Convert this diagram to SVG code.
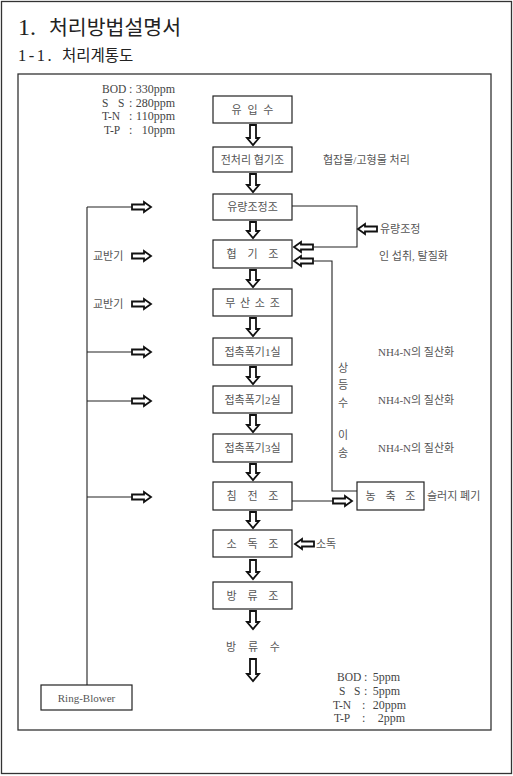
<svg xmlns="http://www.w3.org/2000/svg" width="513" height="776" viewBox="0 0 513 776">
<style>
.frame{fill:none;stroke:#333;stroke-width:1.3}
.box{fill:#fff;stroke:#222;stroke-width:1.2}
.ln{fill:none;stroke:#222;stroke-width:1.1}
.ar{fill:#fff;stroke:#111;stroke-width:1.8;stroke-linejoin:miter}
.t{font-family:"Liberation Serif","Noto Sans CJK KR",serif;font-size:11px;fill:#555;text-anchor:middle}
.tl{font-family:"Liberation Serif","Noto Sans CJK KR",serif;font-size:11px;fill:#555}
.v{font-family:"Liberation Serif","Noto Sans CJK KR",serif;font-size:12px;fill:#444}
.lb{font-size:11.5px}
.title{font-family:"Liberation Serif","Noto Sans CJK KR",serif;fill:#222}
</style>
<defs>
<path id="ra" d="M0,-2.5 H12 V-5 L19,0 L12,5 V2.5 H0 Z"/>
</defs>
<rect x="0" y="0" width="513" height="776" fill="#fff"/>
<rect class="frame" x="1.5" y="1.5" width="510" height="772"/>
<rect class="frame" x="18" y="74" width="473" height="656"/>
<text class="title" x="18" y="35" font-size="24">1.<tspan x="49" font-size="20.5">처리방법설명서</tspan></text>
<text class="title" x="18" y="61" font-size="16.5" letter-spacing="2.5">1-1.<tspan x="62" font-size="15.5" letter-spacing="0">처리계통도</tspan></text>

<g id="influent-quality" class="v">
<text class="lb" x="102" y="93">BOD</text><text x="129" y="93">:</text><text x="175" y="93" text-anchor="end">330ppm</text>
<text class="lb" x="102" y="107">S</text><text class="lb" x="118" y="107">S</text><text x="129" y="107">:</text><text x="175" y="107" text-anchor="end">280ppm</text>
<text class="lb" x="102" y="120">T-N</text><text x="129" y="120">:</text><text x="175" y="120" text-anchor="end">110ppm</text>
<text class="lb" x="104" y="134">T-P</text><text x="129" y="134">:</text><text x="175" y="134" text-anchor="end">10ppm</text>
</g>
<g id="effluent-quality" class="v">
<text class="lb" x="337" y="681">BOD</text><text x="364" y="681">:</text><text x="400" y="681" text-anchor="end">5ppm</text>
<text class="lb" x="339" y="695">S</text><text class="lb" x="354" y="695">S</text><text x="364" y="695">:</text><text x="400" y="695" text-anchor="end">5ppm</text>
<text class="lb" x="333" y="709">T-N</text><text x="362" y="709">:</text><text x="406" y="709" text-anchor="end">20ppm</text>
<text class="lb" x="334" y="722">T-P</text><text x="362" y="722">:</text><text x="405" y="722" text-anchor="end">2ppm</text>
</g>

<g id="connectors">
<path class="ln" d="M87,207 V685 M87,207 H132 M87,352 H132 M87,401 H132 M87,497 H132"/>
<path class="ln" d="M292,206 H357 V247 H314"/>
<path class="ln" d="M314,261 H332 V491 H357"/>
<path class="ln" d="M292,501 H333"/>
<use href="#ra" class="ar" transform="translate(132,207)"/>
<use href="#ra" class="ar" transform="translate(132,256)"/>
<use href="#ra" class="ar" transform="translate(132,304)"/>
<use href="#ra" class="ar" transform="translate(132,352)"/>
<use href="#ra" class="ar" transform="translate(132,401)"/>
<use href="#ra" class="ar" transform="translate(132,497)"/>
<use href="#ra" class="ar" transform="translate(333,501)"/>
<use href="#ra" class="ar" transform="translate(313,247) scale(-1,1)"/>
<use href="#ra" class="ar" transform="translate(313,261) scale(-1,1)"/>
<use href="#ra" class="ar" transform="translate(377,229) scale(-1,1)"/>
<use href="#ra" class="ar" transform="translate(314,544) scale(-1,1)"/>
<path class="ar" d="M250,125 V138 H247 L253,145 L259,138 H256 V125 Z"/>
<path class="ar" d="M250,174 V185 H247 L253,192 L259,185 H256 V174 Z"/>
<path class="ar" d="M250,222 V231 H247 L253,238 L259,231 H256 V222 Z"/>
<path class="ar" d="M250,270 V280 H247 L253,287 L259,280 H256 V270 Z"/>
<path class="ar" d="M250,318 V329 H247 L253,336 L259,329 H256 V318 Z"/>
<path class="ar" d="M250,367 V377 H247 L253,384 L259,377 H256 V367 Z"/>
<path class="ar" d="M250,415 V425 H247 L253,432 L259,425 H256 V415 Z"/>
<path class="ar" d="M250,464 V473 H247 L253,480 L259,473 H256 V464 Z"/>
<path class="ar" d="M250,512 V521 H247 L253,528 L259,521 H256 V512 Z"/>
<path class="ar" d="M250,560 V572 H247 L253,579 L259,572 H256 V560 Z"/>
<path class="ar" d="M250,611 V622 H247 L253,629 L259,622 H256 V611 Z"/>
<path class="ar" d="M250,659 V674 H247 L253,681 L259,674 H256 V659 Z"/>
</g>

<g id="n-influent"><rect class="box" x="213" y="96" width="79" height="27"/><text class="t" x="252.5" y="113.5" word-spacing="3">유 입 수</text></g>
<g id="n-pretreat"><rect class="box" x="213" y="147" width="79" height="25"/><text class="t" x="252.5" y="163.5">전처리 협기조</text></g>
<g id="n-equal"><rect class="box" x="213" y="194" width="79" height="26"/><text class="t" x="252.5" y="211">유량조정조</text></g>
<g id="n-anaerobic"><rect class="box" x="213" y="240" width="79" height="28"/><text class="t" x="252.5" y="258" word-spacing="8">협 기 조</text></g>
<g id="n-anoxic"><rect class="box" x="213" y="289" width="79" height="27"/><text class="t" x="252.5" y="306.5" word-spacing="2">무 산 소 조</text></g>
<g id="n-aer1"><rect class="box" x="213" y="338" width="79" height="27"/><text class="t" x="252.5" y="355.5" font-size="10.5">접촉폭기1실</text></g>
<g id="n-aer2"><rect class="box" x="213" y="386" width="79" height="27"/><text class="t" x="252.5" y="403.5" font-size="10.5">접촉폭기2실</text></g>
<g id="n-aer3"><rect class="box" x="213" y="434" width="79" height="28"/><text class="t" x="252.5" y="452" font-size="10.5">접촉폭기3실</text></g>
<g id="n-settle"><rect class="box" x="213" y="482" width="79" height="28"/><text class="t" x="252.5" y="500" word-spacing="8">침 전 조</text></g>
<g id="n-disinfect"><rect class="box" x="213" y="530" width="79" height="27"/><text class="t" x="252.5" y="547.5" word-spacing="8">소 독 조</text></g>
<g id="n-discharge"><rect class="box" x="213" y="582" width="79" height="27"/><text class="t" x="252.5" y="599.5" word-spacing="8">방 류 조</text></g>
<g id="n-thickener"><rect class="box" x="357" y="482" width="67" height="28"/><text class="t" x="390.5" y="500" word-spacing="7">농 축 조</text></g>
<g id="n-blower"><rect class="box" x="41" y="685" width="91" height="25"/><text class="t" x="86.5" y="701.5" font-size="12" fill="#333">Ring-Blower</text></g>

<g id="labels">
<text class="t" x="253" y="651" word-spacing="9">방 류 수</text>
<text class="tl" x="323" y="164">협잡물/고형물 처리</text>
<text class="tl" x="380" y="233" font-size="10">유량조정</text>
<text class="tl" x="379" y="260">인 섭취, 탈질화</text>
<text class="tl" x="378" y="356">NH4-N의 질산화</text>
<text class="tl" x="378" y="404">NH4-N의 질산화</text>
<text class="tl" x="378" y="452">NH4-N의 질산화</text>
<text class="t" x="343" y="372">상</text>
<text class="t" x="343" y="389">등</text>
<text class="t" x="343" y="407">수</text>
<text class="t" x="343" y="439">이</text>
<text class="t" x="343" y="457">송</text>
<text class="tl" x="427" y="500">슬러지 폐기</text>
<text class="tl" x="316" y="548">소독</text>
<text class="tl" x="93" y="260">교반기</text>
<text class="tl" x="93" y="308">교반기</text>
</g>
</svg>
